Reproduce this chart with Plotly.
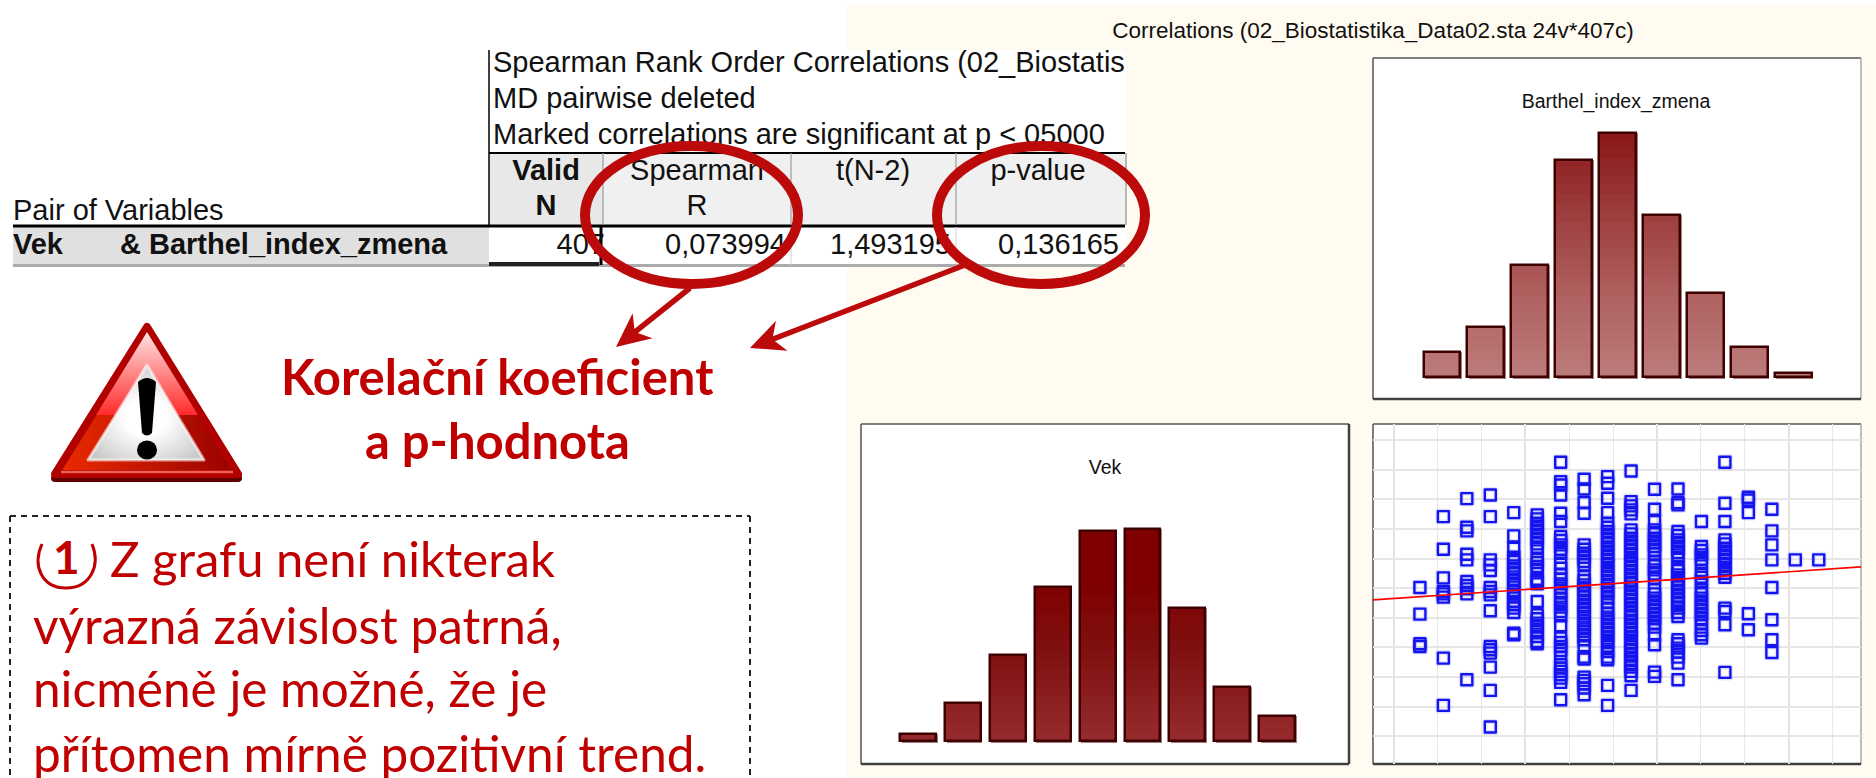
import base64
import plotly.graph_objects as go

W, H = 1876, 778

# ---------- data ----------
vek_bins = list(range(9))
vek_counts = [3, 17, 38, 68, 93, 94, 59, 24, 11]
barthel_bins = list(range(9))
barthel_counts = [11, 22, 49, 95, 107, 71, 37, 13, 2]

# scatter: column index (Vek class) -> Barthel_index_zmena readings (picture units, axis reversed)
scatter_columns = {
    0: [503, 583, 672, 680],
    1: [290, 388, 474, 515, 522, 532, 715, 857],
    2: [236, 322, 333, 403, 420, 485, 497, 507, 522, 780],
    3: [225, 290, 420, 435, 452, 503, 515, 525, 573, 680, 690, 700, 742, 812, 922],
    4: [278, 348, 385, 412, 425, 438, 450, 462, 478, 490, 502, 515, 528, 545, 555, 565, 578, 640, 645],
    5: [285, 297, 310, 322, 335, 348, 360, 372, 385, 415, 428, 440, 452, 478, 485, 492, 545, 585, 597,
        610, 622, 635, 650, 665, 672],
    6: [127, 185, 195, 225, 280, 305, 350, 362, 375, 388, 400, 430, 445, 465, 478, 492, 505, 520, 535,
        548, 562, 575, 588, 618, 655, 668, 680, 692, 712, 735, 745, 755, 765, 775, 788, 840],
    7: [178, 207, 248, 280, 375, 388, 400, 412, 425, 435, 470, 482, 495, 508, 520, 532, 545, 558, 570,
        582, 595, 610, 622, 635, 648, 660, 678, 712, 718, 772, 782, 792, 805, 825],
    8: [170, 190, 235, 278, 310, 322, 335, 348, 360, 372, 385, 398, 410, 422, 435, 448, 460, 472, 485,
        497, 510, 522, 535, 548, 565, 580, 592, 605, 618, 630, 642, 655, 668, 680, 695, 712, 720, 797, 857],
    9: [153, 245, 258, 270, 282, 330, 342, 355, 368, 380, 392, 405, 418, 430, 442, 455, 468, 480, 492,
        505, 518, 530, 542, 555, 568, 580, 592, 605, 618, 630, 642, 655, 668, 680, 692, 705, 718, 730,
        742, 755, 768, 812],
    10: [208, 268, 305, 330, 342, 355, 368, 380, 392, 402, 425, 438, 450, 462, 475, 510, 522, 535, 548,
         560, 572, 585, 597, 610, 622, 645, 675, 757, 770],
    11: [207, 248, 255, 335, 347, 360, 372, 385, 398, 412, 440, 452, 465, 478, 490, 502, 515, 528, 540,
         552, 565, 578, 590, 660, 672, 685, 697, 712, 730, 780],
    12: [305, 380, 392, 405, 418, 430, 460, 472, 485, 510, 522, 535, 548, 560, 572, 585, 597, 610, 632, 645, 655],
    13: [127, 250, 305, 360, 372, 385, 398, 410, 422, 435, 448, 460, 472, 565, 575, 615, 758],
    14: [232, 240, 278, 582, 630],
    15: [268, 333, 375, 420, 503, 600, 660, 698],
    16: [420],
    17: [420],
}
trend_x = [-2.0, 18.8]
trend_y = [540, 441]

table_title = ["Spearman Rank Order Correlations (02_Biostatis", "MD pairwise deleted",
               "Marked correlations are significant at p < 05000"]
table_values = ["407", "0,073994", "1,493195", "0,136165"]
RED = "#C00000"


def xd(a, b):
    return [a / W, b / W]


def yd(t, b):
    return [1 - b / H, 1 - t / H]


def hexc(c):
    return tuple(int(c[i:i + 2], 16) for i in (1, 3, 5))


def grad(stops, v):
    for (a, ca), (b, cb) in zip(stops, stops[1:]):
        if v <= b:
            t = (v - a) / (b - a)
            r = [round(p + (q - p) * t) for p, q in zip(hexc(ca), hexc(cb))]
            return f"rgb({r[0]},{r[1]},{r[2]})"
    return stops[-1][1]


def hist(fig, bins, counts, width, stops, xa, ya, band=4):
    sx, sb, sy, sc = [], [], [], []
    for x, c in zip(bins, counts):
        lo = 0
        while lo < c:
            hi = min(lo + band, c)
            sx.append(x); sb.append(lo); sy.append(hi - lo + 0.15 if hi < c else hi - lo)
            sc.append(grad(stops, (lo + hi) / 2))
            lo = hi
    fig.add_bar(x=bins, y=[c + 0.9 for c in counts], base=-0.9, width=width,
                offset=-width / 2 + 0.035, marker=dict(color="#A68080", line_width=0),
                xaxis=xa, yaxis=ya, hoverinfo="skip")
    fig.add_bar(x=sx, y=sy, base=sb, width=width, marker=dict(color=sc, line_width=0),
                xaxis=xa, yaxis=ya, hoverinfo="skip")
    fig.add_bar(x=bins, y=counts, width=width,
                marker=dict(color="rgba(0,0,0,0)", line=dict(color="#3F0000", width=2.5)),
                xaxis=xa, yaxis=ya, hoverinfo="skip")


fig = go.Figure()
hist(fig, vek_bins, vek_counts, 0.8,
     [(0, "#962B2E"), (40, "#801010"), (70, "#7F0000"), (200, "#7F0000")], "x", "y")
hist(fig, barthel_bins, barthel_counts, 0.84,
     [(0, "#BC7C7C"), (36, "#B06060"), (64, "#A04545"), (107, "#8B1818")], "x2", "y2")

sx, sy = [], []
for c, vals in scatter_columns.items():
    sx += [c] * len(vals)
    sy += vals
fig.add_scatter(x=sx, y=sy, mode="markers", xaxis="x3", yaxis="y3", hoverinfo="skip",
                marker=dict(symbol="square-open", size=11, color="rgba(60,60,255,0.14)",
                            line=dict(width=5, color="rgba(60,60,255,0.14)")))
fig.add_scatter(x=sx, y=sy, mode="markers", xaxis="x3", yaxis="y3", hoverinfo="skip",
                marker=dict(symbol="square-open", size=11, color="#1414F0", line=dict(width=2.4, color="#1414F0")))
fig.add_scatter(x=trend_x, y=trend_y, mode="lines", xaxis="x3", yaxis="y3", hoverinfo="skip",
                line=dict(color="#FF0000", width=1.6))


def txt(x, y, s, size, pos="middle right", family="Liberation Sans", color="#111111"):
    fig.add_scatter(x=[x], y=[y], text=[s], mode="text", textposition=pos, xaxis="x4", yaxis="y4",
                    textfont=dict(size=size, family=family, color=color), hoverinfo="skip",
                    cliponaxis=False)


TS = 29
for s, y in zip(table_title, [65, 101, 137]):
    txt(493, y, s, TS)
txt(13, 213, "Pair of Variables", TS)
txt(13, 247, "<b>Vek</b>", TS)
txt(120, 247, "<b>&amp; Barthel_index_zmena</b>", TS)
txt(546, 173, "<b>Valid</b>", TS, "middle center")
txt(546, 208, "<b>N</b>", TS, "middle center")
txt(697, 173, "Spearman", TS, "middle center")
txt(697, 208, "R", TS, "middle center")
txt(873, 173, "t(N-2)", TS, "middle center")
txt(1038, 173, "p-value", TS, "middle center")
txt(605, 247, table_values[0], TS, "middle left")
txt(786, 247, table_values[1], TS, "middle left")
txt(951, 247, table_values[2], TS, "middle left")
txt(1119, 247, table_values[3], TS, "middle left")
txt(1373, 32, "Correlations (02_Biostatistika_Data02.sta 24v*407c)", 22.5, "middle center")
txt(1616, 103, "Barthel_index_zmena", 19.5, "middle center")
txt(1105, 469, "Vek", 19.5, "middle center")

# ---------- shapes ----------
shapes = []


def rect(x0, y0, x1, y1, fill, layer="below", line=None, lw=0):
    shapes.append(dict(type="rect", xref="paper", yref="paper", x0=x0 / W, x1=x1 / W, y0=1 - y0 / H, y1=1 - y1 / H,
                       fillcolor=fill, line=dict(width=lw, color=line or fill), layer=layer))


def seg(x0, y0, x1, y1, color, lw, layer="below", dash=None):
    shapes.append(dict(type="line", xref="paper", yref="paper", x0=x0 / W, x1=x1 / W, y0=1 - y0 / H, y1=1 - y1 / H,
                       line=dict(color=color, width=lw, dash=dash or "solid"), layer=layer))


def path(points, fill, layer="above"):
    d = "M" + " L".join(f"{x / W:.5f},{1 - y / H:.5f}" for x, y in points) + " Z"
    shapes.append(dict(type="path", xref="paper", yref="paper", path=d, fillcolor=fill, line_width=0, layer=layer))


rect(847, 5, W, H, "#FFFBF0")
rect(489, 50, 1125, 267, "#FFFFFF")
# table
rect(489, 153, 603, 225, "#E8E8E8")
rect(603, 153, 1125, 225, "#F0F0F0")
rect(13, 227, 489, 264, "#E0E0E0")
rect(13, 264, 1125, 267, "#ABABAB")
seg(489, 50, 489, 225, "#000000", 1.5)
seg(489, 153, 1125, 153, "#000000", 2)
seg(13, 226, 1125, 226, "#000000", 3)
for x in (603, 791, 956):
    seg(x, 153, x, 225, "#9A9A9A", 1.2)
for x in (791, 956):
    seg(x, 227, x, 265, "#D0D0D0", 1)
seg(489, 264, 599, 264, "#202020", 4)
seg(601, 227, 601, 265, "#000000", 3)
rect(1125, 153, 1127, 225, "#B8B8B8")

# panels
for (x0, y0, x1, y1) in [(861, 424, 1349, 764), (1373, 58, 1861, 399), (1373, 424, 1861, 764)]:
    rect(x0, y0, x1, y1, "#FFFFFF")
    seg(x0, y0, x1, y0, "#555555", 1.5)
    seg(x0, y0, x0, y1, "#555555", 1.5)
    seg(x1, y0, x1, y1, "#AAAAAA", 1.5)
    seg(x0, y1, x1, y1, "#404040", 2.5)
seg(1349, 424, 1349, 764, "#404040", 2.5)

# ellipses and arrows
for x0, x1 in [(585, 798), (937, 1145)]:
    shapes.append(dict(type="circle", xref="paper", yref="paper", x0=x0 / W, x1=x1 / W,
                       y0=1 - 146 / H, y1=1 - 284 / H, fillcolor="rgba(0,0,0,0)",
                       line=dict(color="#BC0A0A", width=10), layer="above"))


def arrow(x0, y0, x1, y1):
    dx, dy = x1 - x0, y1 - y0
    n = (dx * dx + dy * dy) ** 0.5
    ux, uy = dx / n, dy / n
    nx, ny = -uy, ux
    L, B = 34, 16
    seg(x0, y0, x1 - ux * 20, y1 - uy * 20, "#BC0A0A", 5.5, "above")
    path([(x1, y1), (x1 - ux * L + nx * B, y1 - uy * L + ny * B), (x1 - ux * 24, y1 - uy * 24),
          (x1 - ux * L - nx * B, y1 - uy * L - ny * B)], "#BC0A0A")


arrow(690, 288, 616, 347)
arrow(965, 265, 750, 348)

# dashed box
seg(10, 516, 750, 516, "#222222", 2, dash="6px,5px")
seg(10, 516, 10, H + 4, "#222222", 2, dash="6px,5px")
seg(750, 516, 750, H + 4, "#222222", 2, dash="6px,5px")

# circled one
shapes.append(dict(type="path", xref="paper", yref="paper", layer="above", line=dict(color=RED, width=3),
                   path=f"M{42 / W:.5f},{1 - 544 / H:.5f} C{32 / W:.5f},{1 - 566 / H:.5f} {42 / W:.5f},{1 - 588 / H:.5f} {66 / W:.5f},{1 - 588 / H:.5f} "
                        f"C{90 / W:.5f},{1 - 588 / H:.5f} {101 / W:.5f},{1 - 566 / H:.5f} {92 / W:.5f},{1 - 544 / H:.5f}"))

# warning icon
svg = """<svg xmlns='http://www.w3.org/2000/svg' viewBox='0 0 191 161' width='191' height='161' preserveAspectRatio='none'>
<defs>
<linearGradient id='h' x1='0' x2='1' y1='0' y2='0'><stop offset='0' stop-color='#EE2C00'/><stop offset='1' stop-color='#960000'/></linearGradient>
<linearGradient id='g' x1='0' x2='0' y1='0' y2='1'><stop offset='0' stop-color='#FFE4E4'/><stop offset='1' stop-color='#FF2A2A'/></linearGradient>
<radialGradient id='w' cx='0.5' cy='0.55' r='0.6'><stop offset='0.3' stop-color='#FFFFFF'/><stop offset='1' stop-color='#C8C8C8'/></radialGradient>
</defs>
<path d='M96,5 L187,153 L4,153 Z' transform='translate(0,3)' fill='#600000' stroke='#600000' stroke-width='8' stroke-linejoin='round'/>
<path d='M96,5 L187,152 L4,152 Z' fill='url(#h)' stroke='#B00000' stroke-width='8' stroke-linejoin='round'/>
<path d='M96,10 L147,93 L45,93 Z' fill='url(#g)'/>
<path d='M10,150 L182,150' stroke='#F06050' stroke-width='2.5'/>
<path d='M96,43 L153,138 L37,138 Z' fill='url(#w)' stroke='#FFFFFF' stroke-opacity='0.6' stroke-width='3' stroke-linejoin='round'/>
<path d='M87,60 Q96,52 105,60 L101,111 Q96,116 91,111 Z' fill='#000'/>
<ellipse cx='96' cy='128' rx='10' ry='9.5' fill='#000'/>
</svg>"""
icon = "data:image/svg+xml;base64," + base64.b64encode(svg.encode()).decode()

# ---------- red text ----------
anns = []


def red(x, y, s, size, anchor="left"):
    anns.append(dict(xref="paper", yref="paper", x=x / W, y=1 - y / H, text=s, showarrow=False, xanchor=anchor,
                     yanchor="middle", font=dict(family="Lato", size=size, color=RED)))


red(497, 376, "<b>Korelační koeficient</b>", 49, "center")
red(497, 440, "<b>a p-hodnota</b>", 49, "center")
red(66, 556, "<b>1</b>", 46, "center")
red(108, 558, "Z grafu není nikterak", 49)
red(31, 625, "výrazná závislost patrná,", 49.5)
red(31, 688, "nicméně je možné, že je", 49.5)
red(31, 753, "přítomen mírně pozitivní trend.", 49.5)

hidden = dict(visible=False, fixedrange=True)
fig.update_layout(
    width=W, height=H, margin=dict(l=0, r=0, t=0, b=0), autosize=False, showlegend=False,
    paper_bgcolor="#FFFFFF", plot_bgcolor="rgba(0,0,0,0)", barmode="overlay", bargap=0,
    shapes=shapes, annotations=anns,
    images=[dict(source=icon, xref="paper", yref="paper", x=51 / W, y=1 - 322 / H, sizex=191 / W, sizey=161 / H,
                 sizing="stretch", xanchor="left", yanchor="top", layer="above")],
    xaxis=dict(domain=xd(861, 1349), range=[-1.27, 9.6], **hidden),
    yaxis=dict(domain=yd(424, 764), range=[-10.2, 140.3], **hidden),
    xaxis2=dict(domain=xd(1373, 1861), range=[-1.57, 9.54], **hidden),
    yaxis2=dict(domain=yd(58, 399), range=[-9.6, 139.7], **hidden),
    xaxis3=dict(domain=xd(1373, 1861), range=[-2.0, 18.8], showticklabels=False, ticks="", zeroline=False,
                showgrid=True, gridcolor="#E2E2E2", gridwidth=2, tick0=-1.124, dtick=5.613,
                minor=dict(tick0=-1.124, dtick=1.871, showgrid=True, gridcolor="#E8E8E8", gridwidth=1), fixedrange=True),
    yaxis3=dict(domain=yd(424, 764), range=[1033, 12], showticklabels=False, ticks="", zeroline=False,
                showgrid=True, gridcolor="#E6E6E6", gridwidth=1.5, tick0=505, dtick=89, fixedrange=True),
    xaxis4=dict(domain=[0, 1], range=[0, W], **hidden),
    yaxis4=dict(domain=[0, 1], range=[H, 0], **hidden),
)

fig.write_html("out.html", config=dict(displayModeBar=False),
               post_script="document.body.style.margin='0';document.body.style.overflow='hidden';"
                           "var s=document.createElement('style');"
                           "s.textContent='.scatterlayer .points path{stroke-linejoin:round}';"
                           "document.head.appendChild(s);")
